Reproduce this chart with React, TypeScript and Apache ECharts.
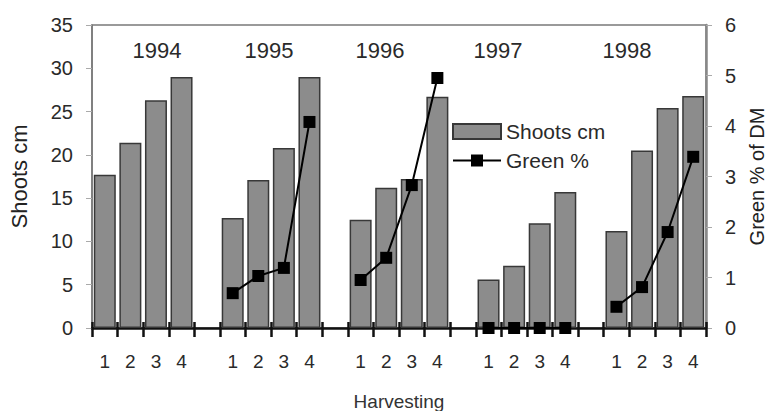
import React, { useEffect, useRef } from "react";
import * as echarts from "echarts";

// Harvest slots: four harvests per year, one empty slot between years
const harvestLabels = [
  "1", "2", "3", "4", "",
  "1", "2", "3", "4", "",
  "1", "2", "3", "4", "",
  "1", "2", "3", "4", "",
  "1", "2", "3", "4",
];

const years = ["1994", "1995", "1996", "1997", "1998"];

// Shoot length (cm) per harvest
const shootsCm: (number | null)[] = [
  17.7, 21.4, 26.3, 29.0, null,
  12.7, 17.1, 20.8, 29.0, null,
  12.5, 16.2, 17.2, 26.7, null,
  5.6, 7.2, 12.1, 15.7, null,
  11.2, 20.5, 25.4, 26.8,
];

// Green share of dry matter (%) per harvest
const greenPct: (number | null)[] = [
  null, null, null, null, null,
  0.69, 1.03, 1.19, 4.08, null,
  0.95, 1.39, 2.83, 4.95, null,
  0, 0, 0, 0, null,
  0.42, 0.81, 1.9, 3.39,
];

// Year caption centres (px)
const yearLabelX = [157, 269, 380, 498, 627];

const FONT = "'Liberation Sans', Arial, sans-serif";

export default function App() {
  const ref = useRef<HTMLDivElement>(null);

  useEffect(() => {
    if (!ref.current) return;
    const chart = echarts.init(ref.current, undefined, { renderer: "svg" });
    chart.setOption({
      animation: false,
      backgroundColor: "#ffffff",
      textStyle: { fontFamily: FONT },
      grid: {
        left: 92,
        right: 61,
        top: 25,
        bottom: 83,
        show: true,
        borderColor: "#7a7a7a",
        borderWidth: 1.5,
        containLabel: false,
        outerBoundsMode: "none",
      },
      legend: {
        left: 452,
        top: 121,
        padding: 0,
        orient: "vertical",
        itemWidth: 48,
        itemHeight: 15,
        itemGap: 8,
        textStyle: { fontFamily: FONT, fontSize: 21, color: "#2a2a2a" },
        data: [{ name: "Shoots cm", icon: "rect" }, { name: "Green %" }],
      },
      xAxis: [
        {
          type: "category",
          position: "bottom",
          data: harvestLabels,
          name: "Harvesting",
          nameLocation: "middle",
          nameGap: 64,
          nameTextStyle: { fontFamily: FONT, fontSize: 19, color: "#333" },
          axisLine: { show: true, lineStyle: { color: "#111", width: 2.5 } },
          axisTick: { show: true, interval: 0, length: 9, lineStyle: { color: "#111", width: 2.5 } },
          axisLabel: { show: true, interval: 0, margin: 24, fontFamily: FONT, fontSize: 19, color: "#2a2a2a" },
          splitLine: { show: false },
        },
        {
          type: "category",
          position: "bottom",
          data: harvestLabels,
          axisLine: { show: false },
          axisTick: { show: true, interval: 0, inside: true, length: 6, lineStyle: { color: "#111", width: 2.5 } },
          axisLabel: { show: false },
          splitLine: { show: false },
        },
      ],
      yAxis: [
        {
          type: "value",
          min: 0,
          max: 35,
          interval: 5,
          name: "Shoots cm",
          nameLocation: "middle",
          nameRotate: 90,
          nameGap: 62,
          nameTextStyle: { fontFamily: FONT, fontSize: 22, color: "#222" },
          axisLine: { show: true, lineStyle: { color: "#777", width: 1.5 } },
          axisTick: { show: true, length: 6, lineStyle: { color: "#aaa" } },
          axisLabel: { margin: 19, fontFamily: FONT, fontSize: 20, color: "#2a2a2a" },
          splitLine: { show: false },
        },
        {
          type: "value",
          min: 0,
          max: 6,
          interval: 1,
          position: "right",
          name: "Green % of DM",
          nameLocation: "middle",
          nameRotate: 90,
          nameGap: 30,
          nameTextStyle: { fontFamily: FONT, fontSize: 20, color: "#222" },
          axisLine: { show: true, lineStyle: { color: "#888", width: 2.5 } },
          axisTick: { show: true, length: 6, lineStyle: { color: "#aaa" } },
          axisLabel: { margin: 19, fontFamily: FONT, fontSize: 20, color: "#2a2a2a" },
          splitLine: { show: false },
        },
      ],
      series: [
        {
          name: "Shoots cm",
          type: "bar",
          xAxisIndex: 0,
          yAxisIndex: 0,
          data: shootsCm,
          barWidth: "86%",
          itemStyle: { color: "#8c8c8c", borderColor: "#383838", borderWidth: 1.5 },
        },
        {
          name: "Green %",
          type: "line",
          xAxisIndex: 0,
          yAxisIndex: 1,
          data: greenPct,
          connectNulls: false,
          symbol: "rect",
          symbolSize: 12,
          lineStyle: { color: "#000", width: 2 },
          itemStyle: { color: "#000" },
          z: 5,
        },
      ],
      graphic: years.map((y, i) => ({
        type: "text",
        x: yearLabelX[i],
        y: 50,
        style: {
          text: y,
          fontFamily: FONT,
          fontSize: 22,
          fill: "#2a2a2a",
          textAlign: "center",
          textVerticalAlign: "middle",
        },
      })),
    });
    return () => chart.dispose();
  }, []);

  return (
    <div
      ref={ref}
      style={{ position: "fixed", left: 0, top: 0, width: 767, height: 411 }}
    />
  );
}
